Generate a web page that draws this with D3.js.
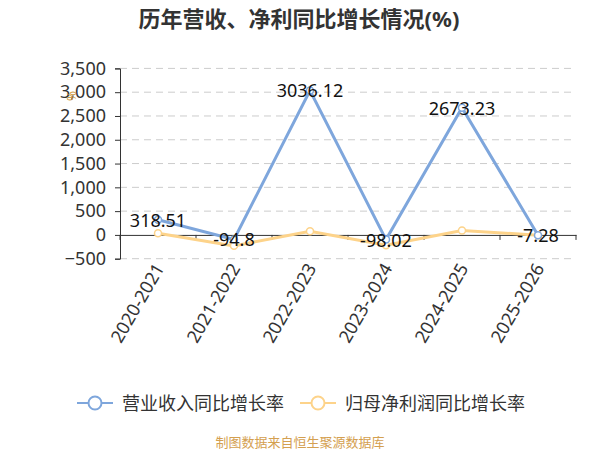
<!DOCTYPE html>
<html>
<head>
	<meta charset="utf-8" />
	<title>历年营收、净利同比增长情况</title>
	<script src="https://cdn.jsdelivr.net/npm/d3@7"></script>
	<style>
		body { margin: 0; background: #fff; }
		svg text { font-family: "Noto Sans", "Noto Sans CJK SC", sans-serif; }
	</style>
</head>
<body>
	<div id="chart"></div>
	<script type="text/javascript">
		var years = ["2020-2021", "2021-2022", "2022-2023", "2023-2024", "2024-2025", "2025-2026"];
		var revenue = [318.51, -94.8, 3036.12, -98.02, 2673.23, -7.28];
		var profit = [35, -230, 77, -215, 92, -5];
		var yTicks = [-500, 0, 500, 1000, 1500, 2000, 2500, 3000, 3500];
		var seriesNames = ["营业收入同比增长率", "归母净利润同比增长率"];
		var colors = ["#7ea6dc", "#fdd38a"];

		var width = 600, height = 450;
		var plotLeft = 120, plotRight = 576, plotTop = 68.4, plotBottom = 258.7;

		var svg = d3.select("#chart").append("svg")
			.attr("width", width)
			.attr("height", height);

		var x = d3.scaleBand().domain(years).range([plotLeft, plotRight]);
		var y = d3.scaleLinear().domain([-500, 3500]).range([plotBottom, plotTop]);
		var cx = function(d, i) { return x(years[i]) + x.bandwidth() / 2; };

		// title
		svg.append("text")
			.attr("x", 299).attr("y", 18)
			.attr("text-anchor", "middle")
			.attr("dominant-baseline", "central")
			.style("font-size", "22px")
			.style("font-weight", "bold")
			.style("fill", "#333")
			.text("历年营收、净利同比增长情况(%)");

		// grid
		svg.append("g").selectAll("line")
			.data(yTicks.filter(function(t) { return t != 0; }))
			.enter().append("line")
			.attr("x1", plotLeft).attr("x2", plotRight)
			.attr("y1", function(d) { return y(d); })
			.attr("y2", function(d) { return y(d); })
			.attr("stroke", "#ccc")
			.attr("stroke-dasharray", "7,5");

		// y axis
		var yAxis = svg.append("g")
			.attr("transform", "translate(" + plotLeft + ",0)")
			.call(d3.axisLeft(y).tickValues(yTicks).tickSize(5).tickPadding(9).tickFormat(d3.format(",")));
		yAxis.select(".domain").attr("stroke", "#333");
		yAxis.selectAll(".tick line").attr("stroke", "#333");
		yAxis.selectAll("text").style("font-size", "18px").style("fill", "#333");

		// unit
		svg.append("text")
			.attr("transform", "translate(71,96) rotate(-90)")
			.attr("text-anchor", "middle")
			.attr("dominant-baseline", "central")
			.style("font-size", "12px")
			.style("fill", "#d09a40")
			.text("%");

		// x axis at zero
		var xAxis = svg.append("g")
			.attr("transform", "translate(0," + y(0) + ")")
			.call(d3.axisBottom(x).tickSize(0).tickFormat(""));
		xAxis.select(".domain").attr("stroke", "#333");
		svg.append("g").selectAll("line")
			.data(years.concat(["end"]))
			.enter().append("line")
			.attr("x1", function(d, i) { return plotLeft + i * x.bandwidth(); })
			.attr("x2", function(d, i) { return plotLeft + i * x.bandwidth(); })
			.attr("y1", y(0)).attr("y2", y(0) + 5)
			.attr("stroke", "#333");

		// x labels
		svg.append("g").selectAll("text")
			.data(years)
			.enter().append("text")
			.attr("transform", function(d, i) { return "translate(" + (cx(d, i) + 7) + "," + 268 + ") rotate(-60)"; })
			.attr("text-anchor", "end")
			.style("font-size", "18px")
			.style("fill", "#333")
			.text(function(d) { return d; });

		// lines
		var line = d3.line()
			.x(function(d, i) { return cx(d, i); })
			.y(function(d) { return y(d); });

		[profit, revenue].forEach(function(s, k) {
			var c = k == 0 ? colors[1] : colors[0];
			svg.append("path")
				.datum(s)
				.attr("d", line)
				.attr("fill", "none")
				.attr("stroke", c)
				.attr("stroke-width", 3);
			svg.append("g").selectAll("circle")
				.data(s)
				.enter().append("circle")
				.attr("cx", cx)
				.attr("cy", function(d) { return y(d); })
				.attr("r", 3.5)
				.attr("fill", "#fff")
				.attr("stroke", c)
				.attr("stroke-width", 1.5);
		});

		// revenue labels
		svg.append("g").selectAll("text")
			.data(revenue)
			.enter().append("text")
			.attr("x", cx)
			.attr("y", function(d) { return y(d); })
			.attr("text-anchor", "middle")
			.attr("dominant-baseline", "central")
			.style("font-size", "18px")
			.style("fill", "#111")
			.text(function(d) { return d; });

		// legend
		var legendX = [77, 300];
		var legend = svg.append("g").selectAll("g")
			.data(seriesNames)
			.enter().append("g")
			.attr("transform", function(d, i) { return "translate(" + legendX[i] + ",403)"; });
		legend.append("line")
			.attr("x1", 0).attr("x2", 36)
			.attr("stroke", function(d, i) { return colors[i]; })
			.attr("stroke-width", 2);
		legend.append("circle")
			.attr("cx", 18).attr("r", 6.5)
			.attr("fill", "#fff")
			.attr("stroke", function(d, i) { return colors[i]; })
			.attr("stroke-width", 2);
		legend.append("text")
			.attr("x", 45)
			.attr("dominant-baseline", "central")
			.style("font-size", "18px")
			.style("fill", "#333")
			.text(function(d) { return d; });

		// source
		svg.append("text")
			.attr("x", 300).attr("y", 442)
			.attr("text-anchor", "middle")
			.attr("dominant-baseline", "central")
			.style("font-size", "13px")
			.style("fill", "#d4a050")
			.text("制图数据来自恒生聚源数据库");
	</script>
</body>
</html>
